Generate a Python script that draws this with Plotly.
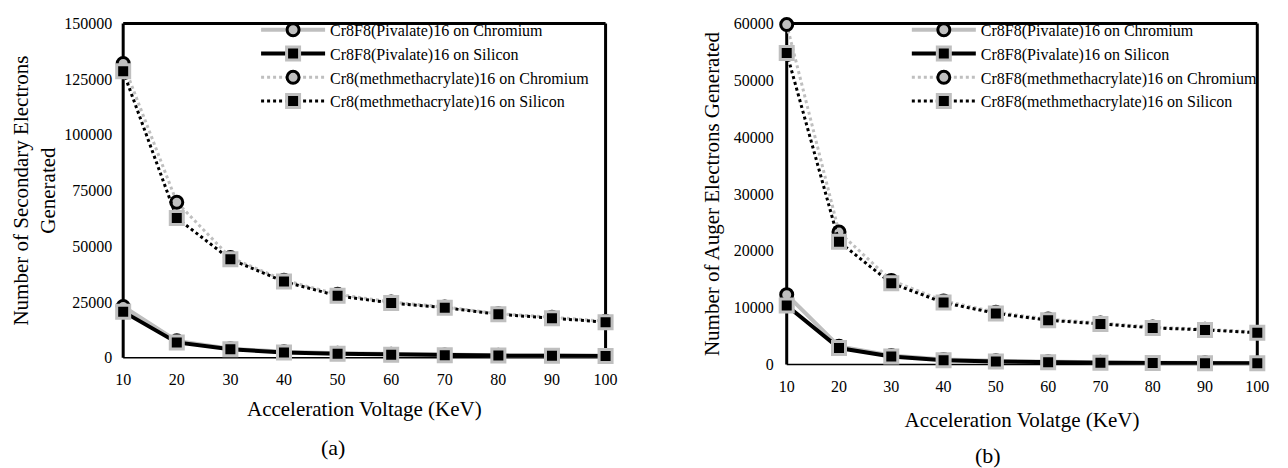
import plotly.graph_objects as go

voltage = [10, 20, 30, 40, 50, 60, 70, 80, 90, 100]
x_ticks = [10, 20, 30, 40, 50, 60, 70, 80, 90, 100]

# (a) Secondary electrons
sec_piv_cr = [23000, 7600, 4100, 2700, 2000, 1600, 1300, 1100, 1000, 900]
sec_piv_si = [20700, 6900, 3800, 2400, 1800, 1400, 1200, 1000, 900, 800]
sec_mma_cr = [132000, 69800, 45000, 34800, 28500, 25000, 22800, 19800, 18200, 16400]
sec_mma_si = [128500, 62700, 44200, 34200, 27800, 24600, 22500, 19500, 17800, 16000]

# (b) Auger electrons
aug_piv_cr = [12300, 3200, 1600, 900, 650, 480, 400, 330, 300, 260]
aug_piv_si = [10400, 2900, 1400, 750, 550, 400, 330, 280, 250, 220]
aug_mma_cr = [59800, 23300, 14800, 11200, 9200, 8000, 7300, 6600, 6200, 5700]
aug_mma_si = [54800, 21600, 14300, 10900, 9000, 7800, 7150, 6450, 6100, 5600]

names_a = ["Cr8F8(Pivalate)16 on Chromium", "Cr8F8(Pivalate)16 on Silicon",
           "Cr8(methmethacrylate)16 on Chromium", "Cr8(methmethacrylate)16 on Silicon"]
names_b = ["Cr8F8(Pivalate)16 on Chromium", "Cr8F8(Pivalate)16 on Silicon",
           "Cr8F8(methmethacrylate)16 on Chromium", "Cr8F8(methmethacrylate)16 on Silicon"]

FONT = "Liberation Serif"
GRAY = "#bfbfbf"

styles = [
    dict(line=dict(color=GRAY, width=4, dash="solid"),
         marker=dict(symbol="circle", size=12, color=GRAY, line=dict(color="black", width=3))),
    dict(line=dict(color="black", width=4, dash="solid"),
         marker=dict(symbol="square", size=13, color="black", line=dict(color=GRAY, width=3))),
    dict(line=dict(color=GRAY, width=3, dash="dot"),
         marker=dict(symbol="circle", size=12, color=GRAY, line=dict(color="black", width=3))),
    dict(line=dict(color="black", width=3, dash="dot"),
         marker=dict(symbol="square", size=13, color="black", line=dict(color=GRAY, width=3))),
]

fig = go.Figure()
series_a = [sec_piv_cr, sec_piv_si, sec_mma_cr, sec_mma_si]
series_b = [aug_piv_cr, aug_piv_si, aug_mma_cr, aug_mma_si]
for i, (nm, ys) in enumerate(zip(names_a, series_a)):
    fig.add_trace(go.Scatter(x=voltage, y=ys, name=nm, mode="lines+markers",
                             xaxis="x", yaxis="y", legend="legend",
                             legendgroup="a%d" % i, cliponaxis=False, **styles[i]))
for i, (nm, ys) in enumerate(zip(names_b, series_b)):
    fig.add_trace(go.Scatter(x=voltage, y=ys, name=nm, mode="lines+markers",
                             xaxis="x2", yaxis="y2", legend="legend2",
                             legendgroup="b%d" % i, cliponaxis=False, **styles[i]))

W, H = 1288, 468
xa = [117 / W, 607 / W]
ya = [1 - 363 / H, 1 - 16 / H]
xb = [791 / W, 1269 / W]
yb = [1 - 370 / H, 1 - 16 / H]

tickfont = dict(family=FONT, size=16, color="black")
titlefont = dict(family=FONT, size=21, color="black")
legfont = dict(family=FONT, size=16, color="black")

fig.update_layout(
    width=W, height=H,
    margin=dict(l=0, r=0, t=0, b=0),
    paper_bgcolor="white", plot_bgcolor="white",
    font=dict(family=FONT, color="black"),
    xaxis=dict(domain=xa, range=[10, 100], tickvals=x_ticks, showgrid=False, zeroline=False,
               showline=False, ticks="", tickfont=tickfont, ticklabelstandoff=10, anchor="y",
               title=dict(text="Acceleration Voltage (KeV)", font=titlefont, standoff=14)),
    yaxis=dict(domain=ya, range=[0, 150000], dtick=25000, showgrid=False, zeroline=False,
               showline=False, ticks="", tickfont=tickfont, ticklabelstandoff=10, anchor="x",
               tickformat="d",
               title=dict(text="Number of Secondary Electrons<br>Generated", font=titlefont, standoff=2)),
    xaxis2=dict(domain=xb, range=[10, 100], tickvals=x_ticks, showgrid=False, zeroline=False,
                showline=False, ticks="", tickfont=tickfont, ticklabelstandoff=10, anchor="y2",
                title=dict(text="Acceleration Volatge (KeV)", font=titlefont, standoff=18)),
    yaxis2=dict(domain=yb, range=[0, 60000], dtick=10000, showgrid=False, zeroline=False,
                showline=False, ticks="", tickfont=tickfont, ticklabelstandoff=12, anchor="x2",
                tickformat="d",
                title=dict(text="Number of Auger Electrons Generated", font=titlefont, standoff=8)),
    legend=dict(x=252 / W, y=1 - 5 / H, xanchor="left", yanchor="top", bgcolor="rgba(0,0,0,0)",
                font=legfont, itemwidth=64, tracegroupgap=8, traceorder="normal"),
    legend2=dict(x=913 / W, y=1 - 5 / H, xanchor="left", yanchor="top", bgcolor="rgba(0,0,0,0)",
                 font=legfont, itemwidth=64, tracegroupgap=8, traceorder="normal"),
    showlegend=True,
)

shapes = []
for xr, yr in (("x", "y"), ("x2", "y2")):
    xd, yd = xr + " domain", yr + " domain"
    shapes.append(dict(type="line", xref=xd, yref=yd, x0=0, x1=0, y0=0, y1=1,
                       line=dict(color="black", width=3), layer="below"))
    shapes.append(dict(type="line", xref=xd, yref=yd, x0=0, x1=1, y0=1, y1=1,
                       line=dict(color="black", width=3), layer="below"))
    shapes.append(dict(type="line", xref=xd, yref=yd, x0=1, x1=1, y0=0, y1=1,
                       line=dict(color="black", width=3), layer="below"))
    shapes.append(dict(type="line", xref=xd, yref=yd, x0=0, x1=1, y0=0, y1=0,
                       line=dict(color="black", width=1.5), layer="below"))
fig.update_layout(shapes=shapes)

fig.add_annotation(text="(a)", xref="paper", yref="paper", x=330 / W, y=1 - 456 / H,
                   xanchor="center", yanchor="middle",
                   showarrow=False, font=dict(family=FONT, size=22, color="black"))
fig.add_annotation(text="(b)", xref="paper", yref="paper", x=995 / W, y=1 - 464 / H,
                   xanchor="center", yanchor="middle",
                   showarrow=False, font=dict(family=FONT, size=22, color="black"))

fig.write_html("out.html")
